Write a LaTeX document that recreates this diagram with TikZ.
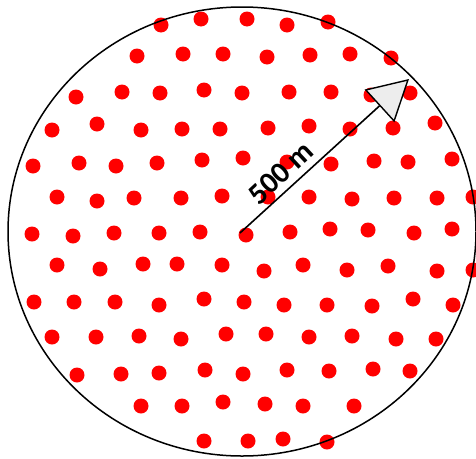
\documentclass[tikz,border=0pt]{standalone}
\usepackage{fontspec}
\setmainfont{Carlito}
\usetikzlibrary{arrows.meta}
\tikzset{
  dot/.style={fill=red, draw=none},
  border/.style={draw=black, line width=1.5pt},
  radius arrow/.style={draw=black, line width=1.6pt,
    -{Triangle[length=40pt,width=44pt,fill=black!7,line width=1.4pt]}},
  label/.style={font=\bfseries\fontsize{30}{30}\selectfont, rotate=42.9, inner sep=0pt}
}
\begin{document}
\begin{tikzpicture}[x=1pt,y=-1pt]
\useasboundingbox (0,0) rectangle (476,458);
\fill[white] (0,0) rectangle (476,458);
\foreach \p in {
(161,25),(201,19),(247,19),(287,25),(328,22),
(137,56),(183,54),(223,54),(267,57),(310,55),(350,54),(391,58),
(76,97),(122,92),(160,93),(204,90),(242,93),(289,92),(331,92),(371,95),(410,93),
(52,130),(97,124),(141,130),(182,129),(220,129),(268,128),(309,126),(350,129),(393,128),(435,123),
(33,166),(79,163),(116,166),(157,163),(202,160),(243,158),(287,162),(331,164),(374,161),(408,162),(452,159),
(57,197),(97,201),(134,198),(181,198),(222,196),(268,197),(309,197),(352,199),(394,198),(437,198),(473,197),
(32,234),(73,236),(114,233),(159,233),(200,232),(246,235),(290,232),(330,229),(368,230),(414,233),(452,229),
(57,265),(100,269),(143,264),(177,264),(222,265),(264,271),(303,265),(347,270),(388,266),(437,271),(473,270),
(34,302),(74,302),(115,302),(159,305),(204,299),(244,302),(284,305),(327,305),(372,306),(413,299),(453,305),
(52,337),(96,337),(139,336),(181,339),(226,334),(266,334),(309,337),(352,336),(396,339),(436,339),
(77,375),(121,374),(159,373),(205,370),(243,374),(287,370),(329,371),(373,369),(410,371),
(141,406),(182,406),(223,402),(265,404),(303,406),(354,406),
(204,441),(248,441),(283,439),(327,442)}
{ \fill[dot] \p circle[radius=7.5pt]; }
\draw[border] (242,231.5) ellipse[x radius=234, y radius=224.5];
\coordinate (c) at (240,233);
\coordinate (tip) at (409,79);
\draw[radius arrow] (c) -- (tip);
\node[label] (lbl) at (281,173) {500 m};
\end{tikzpicture}
\end{document}
